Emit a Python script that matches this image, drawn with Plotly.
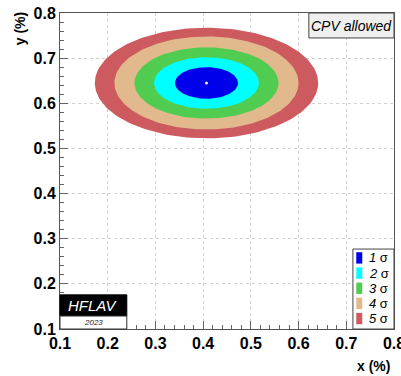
import numpy as np
import plotly.graph_objects as go

# Data
center_x = 0.407
center_y = 0.645
levels = ["1 σ", "2 σ", "3 σ", "4 σ", "5 σ"]
half_x = [0.066, 0.110, 0.151, 0.193, 0.234]
half_y = [0.035, 0.057, 0.079, 0.103, 0.1225]
colors = ["rgb(0,0,235)", "rgb(0,255,255)", "rgb(80,205,80)", "rgb(225,185,140)", "rgb(205,90,95)"]
tick_vals = [0.1, 0.2, 0.3, 0.4, 0.5, 0.6, 0.7, 0.8]

FONT = "Liberation Sans, Arial, sans-serif"

fig = go.Figure()
theta = np.linspace(0, 2 * np.pi, 181)
for name, hx, hy, col in reversed(list(zip(levels, half_x, half_y, colors))):
    fig.add_trace(go.Scatter(
        x=center_x + hx * np.cos(theta), y=center_y + hy * np.sin(theta),
        mode="lines", fill="toself", fillcolor=col, line=dict(width=0),
        name=name, showlegend=False, hoverinfo="skip"))
fig.add_trace(go.Scatter(x=[center_x], y=[center_y], mode="markers",
                         marker=dict(size=3, color="rgb(255,240,200)"),
                         showlegend=False, hoverinfo="skip"))

axis_common = dict(
    range=[0.1, 0.8], tickvals=tick_vals, tickformat=".1f",
    ticks="inside", ticklen=8, tickcolor="#666", tickwidth=1,
    minor=dict(ticks="inside", ticklen=4, dtick=0.02, tickcolor="#666", showgrid=False),
    showgrid=True, gridcolor="#d2d2d2", griddash="dot", gridwidth=1,
    showline=True, linecolor="#555", linewidth=1, mirror=True,
    zeroline=False, ticklabeloverflow="allow", automargin=False,
    tickfont=dict(family=FONT, size=16, color="black", weight="bold"),
)
fig.update_xaxes(**axis_common)
fig.update_yaxes(**axis_common)

shapes = []
annotations = []


def txt(x, y, text, size, color="black", xanchor="center", yanchor="middle", ref="domain", angle=0):
    xr, yr = ("x domain", "y domain") if ref == "domain" else ("paper", "paper")
    annotations.append(dict(xref=xr, yref=yr, x=x, y=y, text=text, showarrow=False,
                            xanchor=xanchor, yanchor=yanchor, textangle=angle,
                            font=dict(family=FONT, size=size, color=color)))


# CPV allowed box
shapes.append(dict(type="rect", xref="x domain", yref="y domain", x0=0.745, x1=1.0, y0=0.921, y1=1.0,
                   fillcolor="#efefef", line=dict(color="#444", width=1)))
txt(0.872, 0.96, "<i>CPV allowed</i>", 14)
# HFLAV logo
shapes.append(dict(type="rect", xref="x domain", yref="y domain", x0=0.0, x1=0.2, y0=0.041, y1=0.108,
                   fillcolor="black", line=dict(color="black", width=1)))
shapes.append(dict(type="rect", xref="x domain", yref="y domain", x0=0.0, x1=0.2, y0=0.0, y1=0.041,
                   fillcolor="white", line=dict(color="#333", width=1)))
txt(0.1, 0.0745, "<i>HFLAV</i>", 15, color="white")
txt(0.1, 0.02, "<i>2023</i>", 8, color="#222")
# Legend box
shapes.append(dict(type="rect", xref="x domain", yref="y domain", x0=0.877, x1=1.0, y0=0.0, y1=0.253,
                   fillcolor="white", line=dict(color="#444", width=1)))
for i, (name, col) in enumerate(zip(levels, colors)):
    yc = 0.225 - i * 0.048
    shapes.append(dict(type="rect", xref="x domain", yref="y domain", x0=0.887, x1=0.905,
                       y0=yc - 0.018, y1=yc + 0.018, fillcolor=col, line=dict(width=0)))
    txt(0.92, yc, "<i>" + name.split(" ")[0] + "</i> σ", 13, xanchor="left")
# Axis titles
txt(0.995, -0.117, "<b>x (%)</b>", 14, xanchor="right", yanchor="middle", ref="paper")
txt(-0.12, 1.01, "<b>y (%)</b>", 14, xanchor="center", yanchor="top", ref="paper", angle=-90)

fig.update_layout(
    width=401, height=376,
    margin=dict(l=60, r=7, t=13, b=47, autoexpand=False),
    paper_bgcolor="white", plot_bgcolor="white",
    shapes=shapes, annotations=annotations, showlegend=False,
)
fig.write_html("out.html")
